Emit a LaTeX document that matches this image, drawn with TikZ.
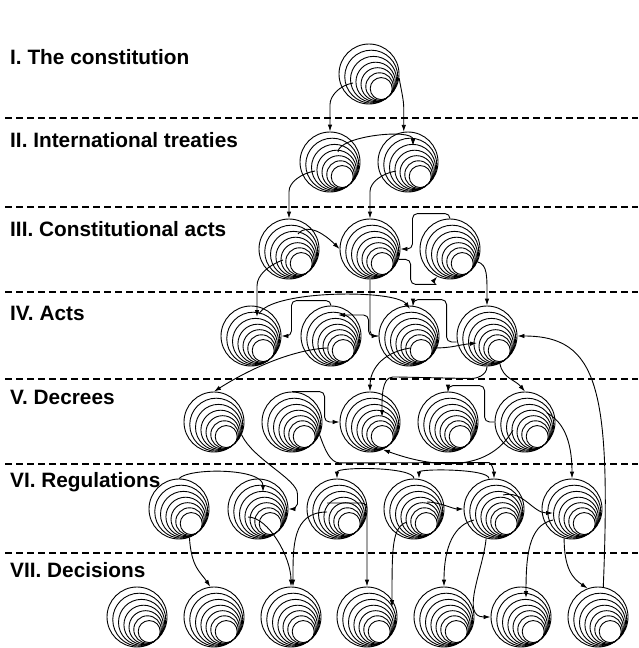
\documentclass[tikz,border=0pt]{standalone}
\usepackage{fontspec}
\setmainfont{Liberation Sans}
\usetikzlibrary{calc}
\usetikzlibrary{arrows.meta}

\begin{document}
\begin{tikzpicture}[x=1pt, y=1pt,
    norm/.style={circle, draw, inner sep=0pt, minimum size=60pt, line width=0.9pt,
        path picture={
            \foreach \r in {26.5,23,19.7,16.6,13.7,11} {
                \draw[line width=0.9pt, shift={(path picture bounding box.center)}] (-50:{30-\r}) circle (\r);
            }
        }},
    link/.style={-{Latex[length=7pt, width=4.5pt]}, line width=0.9pt, rounded corners=5pt},
    level/.style={anchor=base west, inner sep=0pt, font=\bfseries\fontsize{20.8}{24}\selectfont},
    sep/.style={dash pattern=on 7pt off 4pt, line width=1.3pt}]
    \useasboundingbox (0,0) rectangle (638,-648);

    % levels of the legal order
    \node[level] (lvl1) at (10,-64) {I. The constitution};
    \node[level] (lvl2) at (10,-147) {II. International treaties};
    \node[level] (lvl3) at (10,-236) {III. Constitutional acts};
    \node[level] (lvl4) at (10,-320) {IV. Acts};
    \node[level] (lvl5) at (10,-404) {V. Decrees};
    \node[level] (lvl6) at (10,-487) {VI. Regulations};
    \node[level] (lvl7) at (10,-577) {VII. Decisions};
    \foreach \y in {118,207,292,379,464,553} {
        \draw[sep] (5,-\y) -- (638,-\y);
    }

    % norms
    \node[norm] (con) at (369,-74) {};
    \foreach \n/\x in {tr1/330, tr2/408} {
        \node[norm] (\n) at (\x,-162) {};
    }
    \foreach \n/\x in {ca1/289, ca2/370, ca3/450} {
        \node[norm] (\n) at (\x,-249) {};
    }
    \foreach \n/\x in {act1/251, act2/331, act3/409, act4/487} {
        \node[norm] (\n) at (\x,-336) {};
    }
    \foreach \n/\x in {dec1/214, dec2/292, dec3/370, dec4/448, dec5/525} {
        \node[norm] (\n) at (\x,-422) {};
    }
    \foreach \n/\x in {reg1/179, reg2/258, reg3/337, reg4/414, reg5/494, reg6/572} {
        \node[norm] (\n) at (\x,-509) {};
    }
    \foreach \n/\x in {dcs1/137, dcs2/214, dcs3/291, dcs4/367, dcs5/444, dcs6/521, dcs7/598} {
        \node[norm] (\n) at (\x,-617) {};
    }

    % derivations
    \draw[link] ($(con)+(-16,-9)$) to[out=190,in=90] ($(tr1.north)+(0,22)$) -- (tr1.north);
    \draw[link] (con.-8) to[out=-80,in=90] ($(tr2.98)+(0,18)$) -- (tr2.98);
    \draw[link] ($(tr1)+(8,10)$) .. controls +(0,16) and +(0,18) .. ($(tr2)+(5,16)$);
    \draw[link] ($(tr1)+(-15,-9)$) to[out=190,in=90] ($(ca1.north)+(0,22)$) -- (ca1.north);
    \draw[link] ($(tr2)+(-12,-9)$) to[out=190,in=90] ($(ca2.north)+(0,22)$) -- (ca2.north);

    \draw[link] ($(ca1)+(9,15)$) .. controls +(10,12) and +(-14,14) .. (ca2.west);
    \draw[link] (ca3.north) -- ++(0,5) -| ($(ca2.east)+(12,0)$) -- (ca2.east);
    \draw[link] (ca2.-20) -- ++(12,0) -- ++(0,-25) -- ++(20,0) to[out=0,in=-130] (ca3.-115);
    \draw[link] ($(ca1)+(-6,-11)$) to[out=200,in=90] ($(act1)+(6,45)$) -- ($(act1)+(6,19)$);
    \draw[link] (ca2.south) |- (act3.west);
    \draw[link] (ca3.-25) .. controls +(10,-3) and +(0,30) .. (act4.north);

    \draw[link] ($(act1)+(8,22)$) .. controls +(11,24) and +(-15,20) .. ($(act3)+(1,27)$);
    \draw[link] (act2.north) -- ++(0,5) -| ($(act1.east)+(10,0)$) -- (act1.east);
    \draw[link] (act3.west) -- ++(-10,0) |- ($(act2)+(7,21)$);
    \draw[link] ($(act3)+(24,-12)$) .. controls +(20,0) and +(-20,-2) .. ($(act4)+(-10,-7)$);
    \draw[link] ($(act4.west)+(0,-6)$) -- ++(-10,0) |- ($(act3.north)+(4,6)$) -- ($(act3.north)+(4,0)$);
    \draw[link] (dcs7.80) .. controls +(8,200) and +(80,0) .. (act4.east);
    \draw[link] ($(act2)+(-4,-12)$) .. controls +(-37,-2) and +(33,21) .. (dec1.north);
    \draw[link] ($(act3)+(1,-12)$) .. controls +(-30,-5) and +(0,20) .. (dec3.north);
    \draw[link] (act4.south) to[out=-90,in=0] ++(-20,-12) -- ($(dec3)+(28,45)$) to[out=180,in=90] ($(dec3)+(12,5)$);
    \draw[link] (act4.-65) .. controls +(3,-15) and +(-10,12) .. (dec5.north);

    \draw[link] (dec2.north) -| ($(dec3.west)+(-15,0)$) -- (dec3.west);
    \draw[link] (dec5.west) -- ++(-10,0) |- ($(dec4.north)+(0,6)$) -- (dec4.north);
    \draw[link] ($(dec5)+(-12,-8)$) to[out=-120,in=-20] (dec3.-65);
    \draw[link] (dec1.-25) .. controls +(12,-25) and +(0,20) .. ($(reg2.east)+(9,10)$) to[out=-90,in=0] (reg2.east);
    \draw[link] (dec2.-25) to[out=-70,in=180] ++(25,-28) -- ($(reg5.north)+(-10,16)$) to[out=0,in=90] (reg5.north);
    \draw[link] ($(dec5)+(22,9)$) .. controls +(15,-8) and +(0,40) .. (reg6.north);

    \draw[link] (reg1.north) .. controls +(10,11) and +(0,24) .. ($(reg2)+(5,17)$);
    \draw[link] (reg4.north) .. controls +(0,12) and +(0,12) .. (reg3.north);
    \draw[link] ($(reg5.north)+(-5,0)$) .. controls +(0,10) and +(0,10) .. ($(reg4.north)+(5,0)$);
    \draw[link] ($(reg4)+(13,7)$) .. controls +(12,0) and +(-10,0) .. (reg5.west);
    \draw[link] ($(reg5)+(9,14)$) .. controls +(20,5) and +(-20,0) .. ($(reg6)+(-19,-4)$);
    \draw[link] (reg1.-70) .. controls +(2,-30) and +(-10,15) .. (dcs2.97);
    \draw[link] ($(reg2)+(-10,-8)$) .. controls +(20,0) and +(0,30) .. (dcs3.north);
    \draw[link] ($(reg3)+(-10,-3)$) .. controls +(-35,0) and +(0,40) .. ($(dcs3.north)+(2,0)$);
    \draw[link] ($(reg3)+(-10,6)$) -| (dcs4.north);
    \draw[link] ($(reg4)+(-7,-13)$) .. controls +(-15,-5) and +(0,60) .. ($(dcs4)+(25,10)$);
    \draw[link] ($(reg5)+(-20,-11)$) .. controls +(-20,-5) and +(0,40) .. (dcs5.north);
    \draw[link] (reg5.-105) to[out=-95,in=180] (dcs6.west);
    \draw[link] ($(reg6)+(-19,-11)$) .. controls +(-25,-5) and +(0,40) .. ($(dcs6)+(5,19)$);
    \draw[link] (reg6.-105) .. controls +(0,-30) and +(-15,10) .. (dcs7.110);
\end{tikzpicture}
\end{document}
